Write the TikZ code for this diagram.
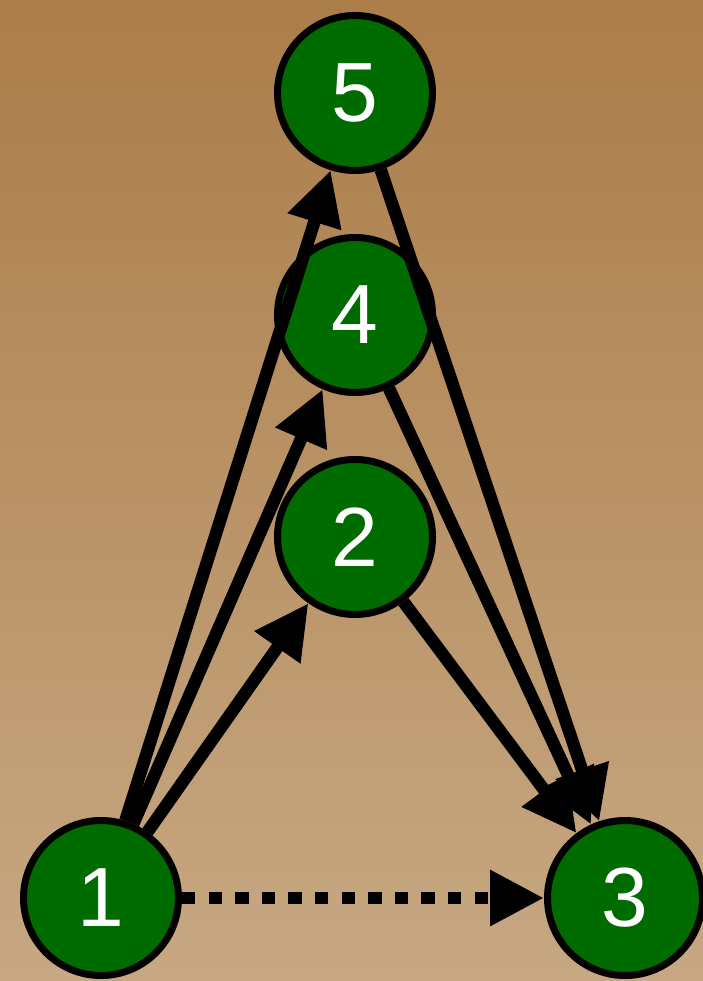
\documentclass[tikz,border=0pt]{standalone}
\usepackage{fontspec}
\setmainfont{Liberation Sans}
\usetikzlibrary{arrows.meta}
\definecolor{bgtop}{RGB}{171,125,73}
\definecolor{bgbot}{RGB}{199,168,131}
\definecolor{nodegreen}{RGB}{0,108,0}
\begin{document}
\begin{tikzpicture}[x=1pt,y=-1pt,
  vert/.style={circle, draw=black, line width=7pt, fill=nodegreen, minimum size=155pt, inner sep=0pt, text=white, font=\fontsize{84}{84}\selectfont},
  edge/.style={line width=12.5pt, -{Triangle[length=54pt,width=53pt]}},
  dotedge/.style={edge, dash pattern=on 13.3pt off 13.3pt}]
\shade[top color=bgtop, bottom color=bgbot] (0,0) rectangle (703,981);
\useasboundingbox (0,0) rectangle (703,981);
\node[vert] (n5) at (355,93) {5};
\node[vert] (n4) at (355,315) {4};
\node[vert] (n2) at (355,537) {2};
\node[vert] (n1) at (101,898) {1};
\node[vert] (n3) at (625,898) {3};
\draw[edge] (n1) -- (n5);
\draw[edge] (n1) -- (n4);
\draw[edge] (n1) -- (n2);
\draw[edge] (n5) -- (n3);
\draw[edge] (n4) -- (n3);
\draw[edge] (n2) -- (n3);
\draw[dotedge] (n1) -- (n3);
\end{tikzpicture}
\end{document}
